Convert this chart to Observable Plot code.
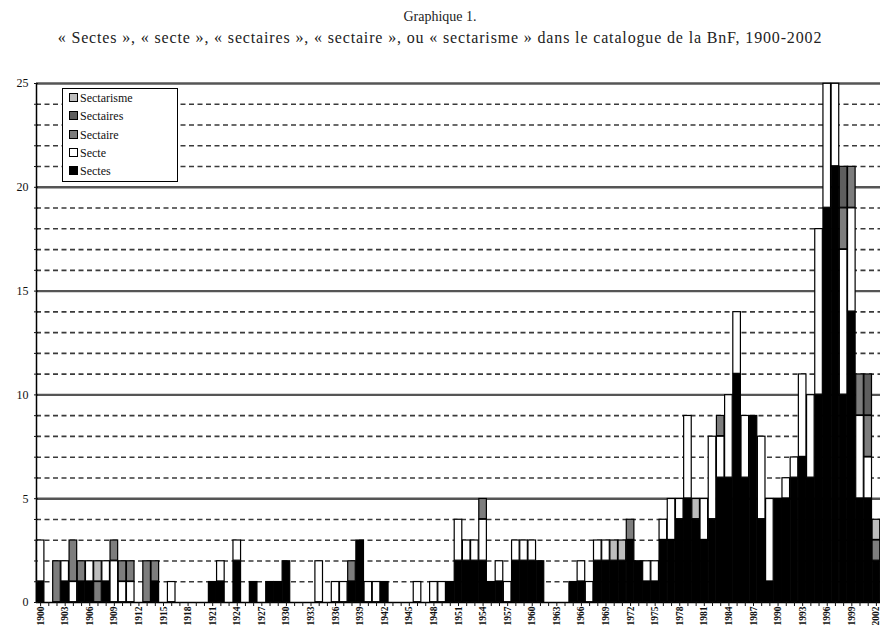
<!DOCTYPE html>
<html><head><meta charset="utf-8">
<script src="https://cdn.jsdelivr.net/npm/d3@7"></script>
<script src="https://cdn.jsdelivr.net/npm/@observablehq/plot@0.6"></script>
<style>
body{margin:0;background:#fff;width:880px;height:630px;overflow:hidden;position:relative;font-family:"Liberation Serif","DejaVu Serif",serif;color:#222;}
#head{height:50px;text-align:center;}
#t1{font-size:14px;padding-top:8px;line-height:18px;}
#t2{font-size:16px;line-height:24px;letter-spacing:0.85px;}
#legend{position:absolute;left:62px;top:88px;width:114px;height:92px;border:1px solid #000;background:#fff;font-family:"Liberation Serif",serif;font-size:12px;color:#111;}
.row{position:absolute;left:6px;height:14px;line-height:14px;white-space:nowrap;}
.sw{display:inline-block;width:7px;height:7px;border:1px solid #000;margin-right:2px;vertical-align:0px;}
</style></head>
<body>
<div id="head"><div id="t1">Graphique 1.</div><div id="t2">« Sectes », « secte », « sectaires », « sectaire », ou « sectarisme » dans le catalogue de la BnF, 1900-2002</div></div>
<div id="chart"></div>
<div id="legend"></div>
<script>
const years = d3.range(1900, 2003);
const seriesNames = ["Sectes", "Secte", "Sectaire", "Sectaires", "Sectarisme"];
const seriesColors = ["#000000", "#ffffff", "#7d7d7d", "#5e5e5e", "#bdbdbd"];
const legendOrder = ["Sectarisme", "Sectaires", "Sectaire", "Secte", "Sectes"];
const yTickLabels = [0, 5, 10, 15, 20, 25];
const xTickLabels = d3.range(1900, 2003, 3);

const sectes = [
  1,0,0,1,0,1,1,0,1,0,
  0,0,0,0,1,0,0,0,0,0,
  0,1,1,0,2,0,1,0,1,1,
  2,0,0,0,0,0,0,0,1,3,
  0,0,1,0,0,0,0,0,0,0,
  1,2,2,2,2,1,1,0,2,2,
  2,2,0,0,0,1,1,0,2,2,
  2,2,3,2,1,1,3,3,4,5,
  4,3,4,6,6,11,6,9,4,1,
  5,5,6,7,6,10,19,21,10,14,
  5,5,2];
const secte = [
  2,0,0,1,1,0,1,0,1,2,
  1,1,0,0,0,0,1,0,0,0,
  0,0,1,0,1,0,0,0,0,0,
  0,0,0,0,2,0,1,1,0,0,
  1,1,0,0,0,0,1,0,1,1,
  0,2,1,1,2,0,1,1,1,1,
  1,0,0,0,0,0,1,1,1,1,
  0,0,0,0,1,1,1,2,1,4,
  0,2,4,2,4,3,3,0,4,4,
  0,1,1,4,4,8,6,4,7,5,
  4,2,0];
const sectaire = [
  0,0,2,0,2,1,0,1,0,1,
  1,1,0,2,1,0,0,0,0,0,
  0,0,0,0,0,0,0,0,0,0,
  0,0,0,0,0,0,0,0,1,0,
  0,0,0,0,0,0,0,0,0,0,
  0,0,0,0,1,0,0,0,0,0,
  0,0,0,0,0,0,0,0,0,0,
  0,0,1,0,0,0,0,0,0,0,
  0,0,0,1,0,0,0,0,0,0,
  0,0,0,0,0,0,0,0,2,2,
  2,2,1];
const sectaires = [
  0,0,0,0,0,0,0,0,0,0,
  0,0,0,0,0,0,0,0,0,0,
  0,0,0,0,0,0,0,0,0,0,
  0,0,0,0,0,0,0,0,0,0,
  0,0,0,0,0,0,0,0,0,0,
  0,0,0,0,0,0,0,0,0,0,
  0,0,0,0,0,0,0,0,0,0,
  0,0,0,0,0,0,0,0,0,0,
  0,0,0,0,0,0,0,0,0,0,
  0,0,0,0,0,0,0,0,2,0,
  0,2,0];
const sectarisme = [
  0,0,0,0,0,0,0,1,0,0,
  0,0,0,0,0,0,0,0,0,0,
  0,0,0,0,0,0,0,0,0,0,
  0,0,0,0,0,0,0,0,0,0,
  0,0,0,0,0,0,0,0,0,0,
  0,0,0,0,0,0,0,0,0,0,
  0,0,0,0,0,0,0,0,0,0,
  1,1,0,0,0,0,0,0,0,0,
  1,0,0,0,0,0,0,0,0,0,
  0,0,0,0,0,0,0,0,0,0,
  0,0,1];

const seriesValues = [sectes, secte, sectaire, sectaires, sectarisme];
const table = [];
seriesNames.forEach((s, k) => years.forEach((y, i) => {
  const v = seriesValues[k][i];
  if (v > 0) table.push({year: y, series: s, value: v});
}));

const W = 880, H = 580, mL = 36, mR = 0, mT = 33, mB = 28;
const band = (W - mL - mR) / years.length;
const minor = d3.range(1, 25).filter(v => v % 5 !== 0);

const chart = Plot.plot({
  width: W, height: H,
  marginLeft: mL, marginRight: mR, marginTop: mT, marginBottom: mB,
  style: {fontFamily: "'Liberation Serif', serif", background: "#fff", color: "#111", overflow: "visible"},
  x: {type: "band", domain: years, padding: 0, round: false, axis: null, label: null},
  y: {domain: [0, 25], axis: null, label: null},
  color: {domain: seriesNames, range: seriesColors},
  marks: [
    Plot.ruleY(minor, {stroke: "#3a3a3a", strokeWidth: 1.6, strokeDasharray: "5,3.5"}),
    Plot.ruleY([5, 10, 15, 20, 25], {stroke: "#555", strokeWidth: 2.4}),
    Plot.barY(table, {x: "year", y: "value", fill: "series", order: seriesNames, stroke: "#000", strokeWidth: 1.2, inset: 0.3}),
    Plot.ruleY([0], {stroke: "#000", strokeWidth: 1.5}),
    Plot.ruleX([1900], {dx: -band / 2, stroke: "#000", strokeWidth: 1.5}),
    Plot.axisY(d3.range(0, 26), {tickSize: 4, tickFormat: () => "", tickPadding: 0, dx: 2, label: null}),
    Plot.axisY(yTickLabels, {tickSize: 0, tickPadding: 8, fontSize: 12, tickFormat: d => d, label: null}),
    Plot.axisX(years, {tickSize: 4, tickFormat: () => "", tickPadding: 0, label: null}),
    Plot.axisX(xTickLabels, {tickSize: 0, tickRotate: -90, tickPadding: 4, fontSize: 9.5, fontWeight: "bold", tickFormat: d => String(d), label: null})
  ]
});
document.getElementById("chart").appendChild(chart);

const legend = document.getElementById("legend");
legendOrder.forEach((s, i) => {
  const row = document.createElement("div");
  row.className = "row";
  row.style.top = (2 + i * 18.3) + "px";
  const sw = document.createElement("span");
  sw.className = "sw";
  sw.style.background = seriesColors[seriesNames.indexOf(s)];
  row.appendChild(sw);
  row.appendChild(document.createTextNode(s));
  legend.appendChild(row);
});
</script>
</body></html>
